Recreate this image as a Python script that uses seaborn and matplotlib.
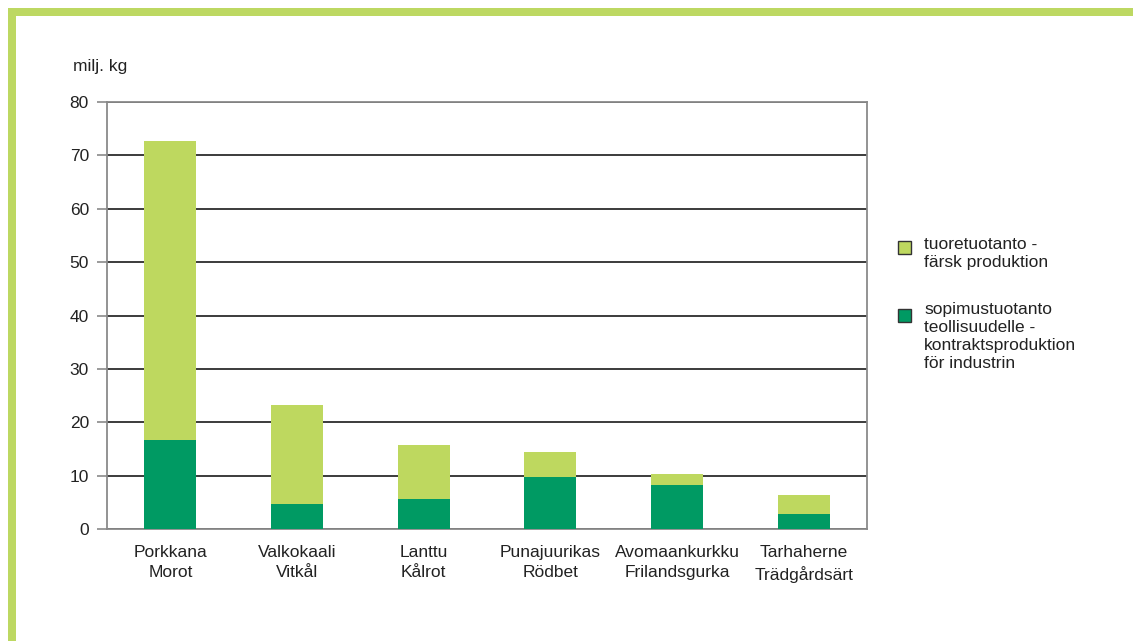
import pandas as pd
import numpy as np
import matplotlib.pyplot as plt
import seaborn as sns
from matplotlib.patches import Rectangle

# data (milj. kg)
crops = ["Porkkana\nMorot", "Valkokaali\nVitkål", "Lanttu\nKålrot",
         "Punajuurikas\nRödbet", "Avomaankurkku\nFrilandsgurka", "Tarhaherne\nTrädgårdsärt"]
contract = [16.6, 4.6, 5.7, 9.8, 8.25, 2.8]
fresh = [56.0, 18.65, 10.0, 4.6, 2.0, 3.6]

light = "#bed85f"
dark = "#009a63"
border = "#bdd862"

df = pd.DataFrame({"crop": crops, "contract": contract, "fresh": fresh})
df["total"] = df["contract"] + df["fresh"]

sns.set_style("white")
plt.rcParams['font.family'] = ['Liberation Sans', 'DejaVu Sans']

fig = plt.figure(figsize=(11.33, 6.41), dpi=100)
ax = fig.add_axes([107/1133, 1-529/641, 760/1133, 427/641])

# stacked bars: total in light green, contract part drawn on top in dark green
sns.barplot(data=df, x="crop", y="total", color=light, width=0.41,
            saturation=1, linewidth=0, ax=ax, zorder=3)
sns.barplot(data=df, x="crop", y="contract", color=dark, width=0.41,
            saturation=1, linewidth=0, ax=ax, zorder=4)

ax.set_xlim(-0.5, 5.5)
ax.set_ylim(0, 80)
ax.set_yticks(range(0, 81, 10))
ax.set_xlabel("")
ax.set_ylabel("")
ax.yaxis.grid(True, color="#1a1a1a", linewidth=1.2, zorder=1)
ax.xaxis.grid(False)
for s in ax.spines.values():
    s.set_color("#8a8a8a")
    s.set_linewidth(1.3)
    s.set_visible(True)
ax.tick_params(axis="y", left=True, length=7, width=1.2, color="#8a8a8a",
               labelsize=12.5, pad=6, labelcolor="#222222")
ax.tick_params(axis="x", bottom=False, labelsize=12.5, pad=8, labelcolor="#222222")
for lab in ax.get_xticklabels():
    lab.set_linespacing(1.4)

fig.text(73/1133, 1-67/641, "milj. kg", fontsize=12.5, color="#222222", va="center")

# legend drawn by hand
fig.patches.append(Rectangle((898/1133, 1-254/641), 13/1133, 13/641, transform=fig.transFigure,
                             facecolor=light, edgecolor="#333333", linewidth=1))
fig.text(924/1133, 1-237/641, "tuoretuotanto -\nfärsk produktion", fontsize=12.5,
         color="#222222", va="top", linespacing=1.25)
fig.patches.append(Rectangle((898/1133, 1-322/641), 13/1133, 13/641, transform=fig.transFigure,
                             facecolor=dark, edgecolor="#333333", linewidth=1))
fig.text(924/1133, 1-302/641,
         "sopimustuotanto\nteollisuudelle -\nkontraktsproduktion\nför industrin",
         fontsize=12.5, color="#222222", va="top", linespacing=1.25)

# green frame at top and left
fig.patches.append(Rectangle((8/1133, 1-16/641), 1, 8/641, transform=fig.transFigure,
                             facecolor=border, edgecolor="none"))
fig.patches.append(Rectangle((8/1133, 0), 8/1133, 1-8/641, transform=fig.transFigure,
                             facecolor=border, edgecolor="none"))

fig.savefig("out.png", dpi=100)
